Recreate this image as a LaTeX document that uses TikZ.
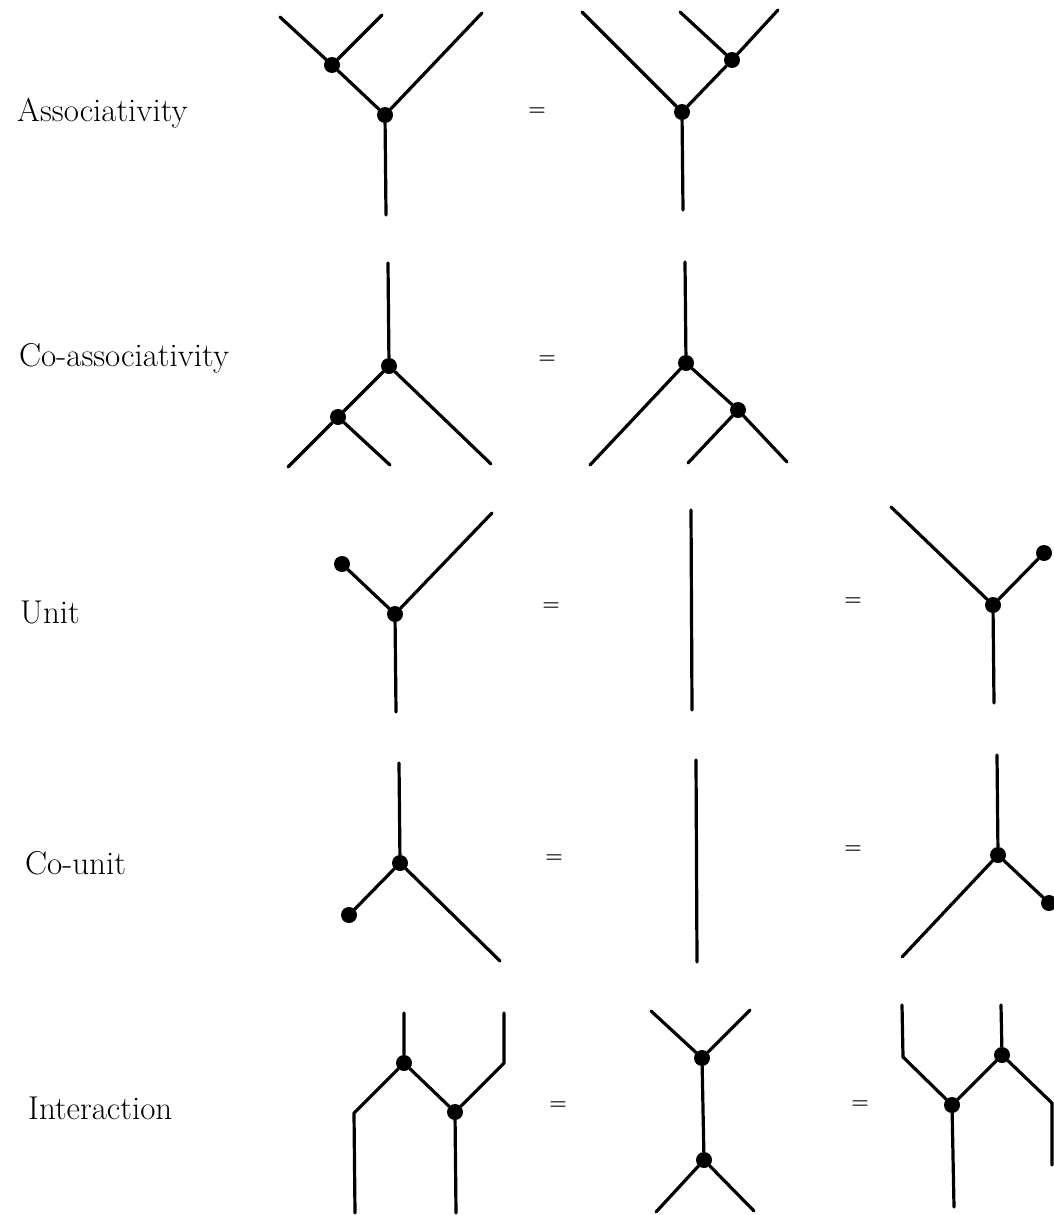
\documentclass[tikz,border=0pt]{standalone}
\usepackage{fontspec}
\begin{document}
\begin{tikzpicture}[x=1pt,y=-1pt,
  edge/.style={line width=3.2pt,line cap=round,line join=round},
  vtx/.style={circle,fill=black,inner sep=0pt,minimum size=16pt},
  lbl/.style={anchor=west,inner sep=0pt,font=\fontsize{33}{38}\selectfont},
  eq/.style={inner sep=0pt,font=\fontsize{20}{22}\selectfont\bfseries}]
\useasboundingbox[fill=white] (0,0) rectangle (1053,1215);

% ---------- Associativity ----------
\node[lbl] (L1) at (17,113) {Associativity};
\coordinate (a1l) at (280,17);
\node[vtx] (a1d) at (332,65) {};
\coordinate (a1m) at (382,15);
\node[vtx] (a1r) at (385,115) {};
\coordinate (a1t) at (482,13);
\coordinate (a1b) at (386,215);
\draw[edge] (a1l) -- (a1d) -- (a1r) -- (a1b);
\draw[edge] (a1m) -- (a1d);
\draw[edge] (a1t) -- (a1r);
\node[eq] (e1) at (537,112) {=};
\coordinate (a2l) at (582,12);
\node[vtx] (a2r) at (682,112) {};
\node[vtx] (a2d) at (732,60) {};
\coordinate (a2m) at (680,12);
\coordinate (a2t) at (778,10);
\coordinate (a2b) at (683,210);
\draw[edge] (a2l) -- (a2r) -- (a2b);
\draw[edge] (a2t) -- (a2d) -- (a2r);
\draw[edge] (a2m) -- (a2d);

% ---------- Co-associativity ----------
\node[lbl] (L2) at (19,358) {Co-associativity};
\coordinate (c1t) at (388,263);
\node[vtx] (c1r) at (389,366) {};
\node[vtx] (c1d) at (338,417) {};
\coordinate (c1bl) at (288,467);
\coordinate (c1bm) at (390,465);
\coordinate (c1br) at (491,464);
\draw[edge] (c1t) -- (c1r) -- (c1d) -- (c1bl);
\draw[edge] (c1d) -- (c1bm);
\draw[edge] (c1r) -- (c1br);
\node[eq] (e2) at (547,360) {=};
\coordinate (c2t) at (685,262);
\node[vtx] (c2r) at (686,363) {};
\node[vtx] (c2d) at (738,410) {};
\coordinate (c2bl) at (590,465);
\coordinate (c2bm) at (688,463);
\coordinate (c2br) at (787,462);
\draw[edge] (c2t) -- (c2r) -- (c2bl);
\draw[edge] (c2r) -- (c2d) -- (c2br);
\draw[edge] (c2d) -- (c2bm);

% ---------- Unit ----------
\node[lbl] (L3) at (20,612) {Unit};
\node[vtx] (u1d) at (342,564) {};
\node[vtx] (u1r) at (395,614) {};
\coordinate (u1t) at (492,513);
\coordinate (u1b) at (396,712);
\draw[edge] (u1d) -- (u1r) -- (u1b);
\draw[edge] (u1t) -- (u1r);
\node[eq] (e3) at (551,607) {=};
\coordinate (u2t) at (691,510);
\coordinate (u2b) at (692,710);
\draw[edge] (u2t) -- (u2b);
\node[eq] (e4) at (853,602) {=};
\coordinate (u3t) at (891,507);
\node[vtx] (u3r) at (993,605) {};
\node[vtx] (u3d) at (1044,553) {};
\coordinate (u3b) at (994,703);
\draw[edge] (u3t) -- (u3r) -- (u3b);
\draw[edge] (u3d) -- (u3r);

% ---------- Co-unit ----------
\node[lbl] (L4) at (25,863) {Co-unit};
\coordinate (k1t) at (399,763);
\node[vtx] (k1r) at (400,863) {};
\node[vtx] (k1d) at (349,915) {};
\coordinate (k1b) at (500,961);
\draw[edge] (k1t) -- (k1r) -- (k1d);
\draw[edge] (k1r) -- (k1b);
\node[eq] (e5) at (554,859) {=};
\coordinate (k2t) at (696,760);
\coordinate (k2b) at (697,962);
\draw[edge] (k2t) -- (k2b);
\node[eq] (e6) at (853,850) {=};
\coordinate (k3t) at (997,755);
\node[vtx] (k3r) at (998,855) {};
\coordinate (k3b) at (902,957);
\node[vtx] (k3d) at (1049,903) {};
\draw[edge] (k3t) -- (k3r) -- (k3b);
\draw[edge] (k3r) -- (k3d);

% ---------- Interaction ----------
\node[lbl] (L5) at (28,1108) {Interaction};
\coordinate (i1t) at (404,1013);
\node[vtx] (i1a) at (404,1063) {};
\node[vtx] (i1b) at (455,1112) {};
\coordinate (i1rt) at (504,1013);
\coordinate (i1rb) at (504,1063);
\coordinate (i1lb) at (354,1113);
\coordinate (i1ll) at (355,1213);
\coordinate (i1bb) at (456,1213);
\draw[edge] (i1t) -- (i1a) -- (i1lb) -- (i1ll);
\draw[edge] (i1a) -- (i1b) -- (i1bb);
\draw[edge] (i1rt) -- (i1rb) -- (i1b);
\node[eq] (e7) at (558,1106) {=};
\coordinate (i2tl) at (651,1011);
\coordinate (i2tr) at (750,1010);
\node[vtx] (i2a) at (702,1058) {};
\node[vtx] (i2b) at (704,1160) {};
\coordinate (i2bl) at (656,1212);
\coordinate (i2br) at (754,1211);
\draw[edge] (i2tl) -- (i2a) -- (i2tr);
\draw[edge] (i2a) -- (i2b);
\draw[edge] (i2bl) -- (i2b) -- (i2br);
\node[eq] (e8) at (860,1105) {=};
\coordinate (i3lt) at (902,1005);
\coordinate (i3lb) at (903,1057);
\node[vtx] (i3a) at (952,1105) {};
\node[vtx] (i3b) at (1002,1055) {};
\coordinate (i3bt) at (1001,1005);
\coordinate (i3rb) at (1052,1103);
\coordinate (i3rr) at (1052,1165);
\coordinate (i3ab) at (954,1207);
\draw[edge] (i3lt) -- (i3lb) -- (i3a) -- (i3ab);
\draw[edge] (i3a) -- (i3b) -- (i3bt);
\draw[edge] (i3b) -- (i3rb) -- (i3rr);
\end{tikzpicture}
\end{document}
